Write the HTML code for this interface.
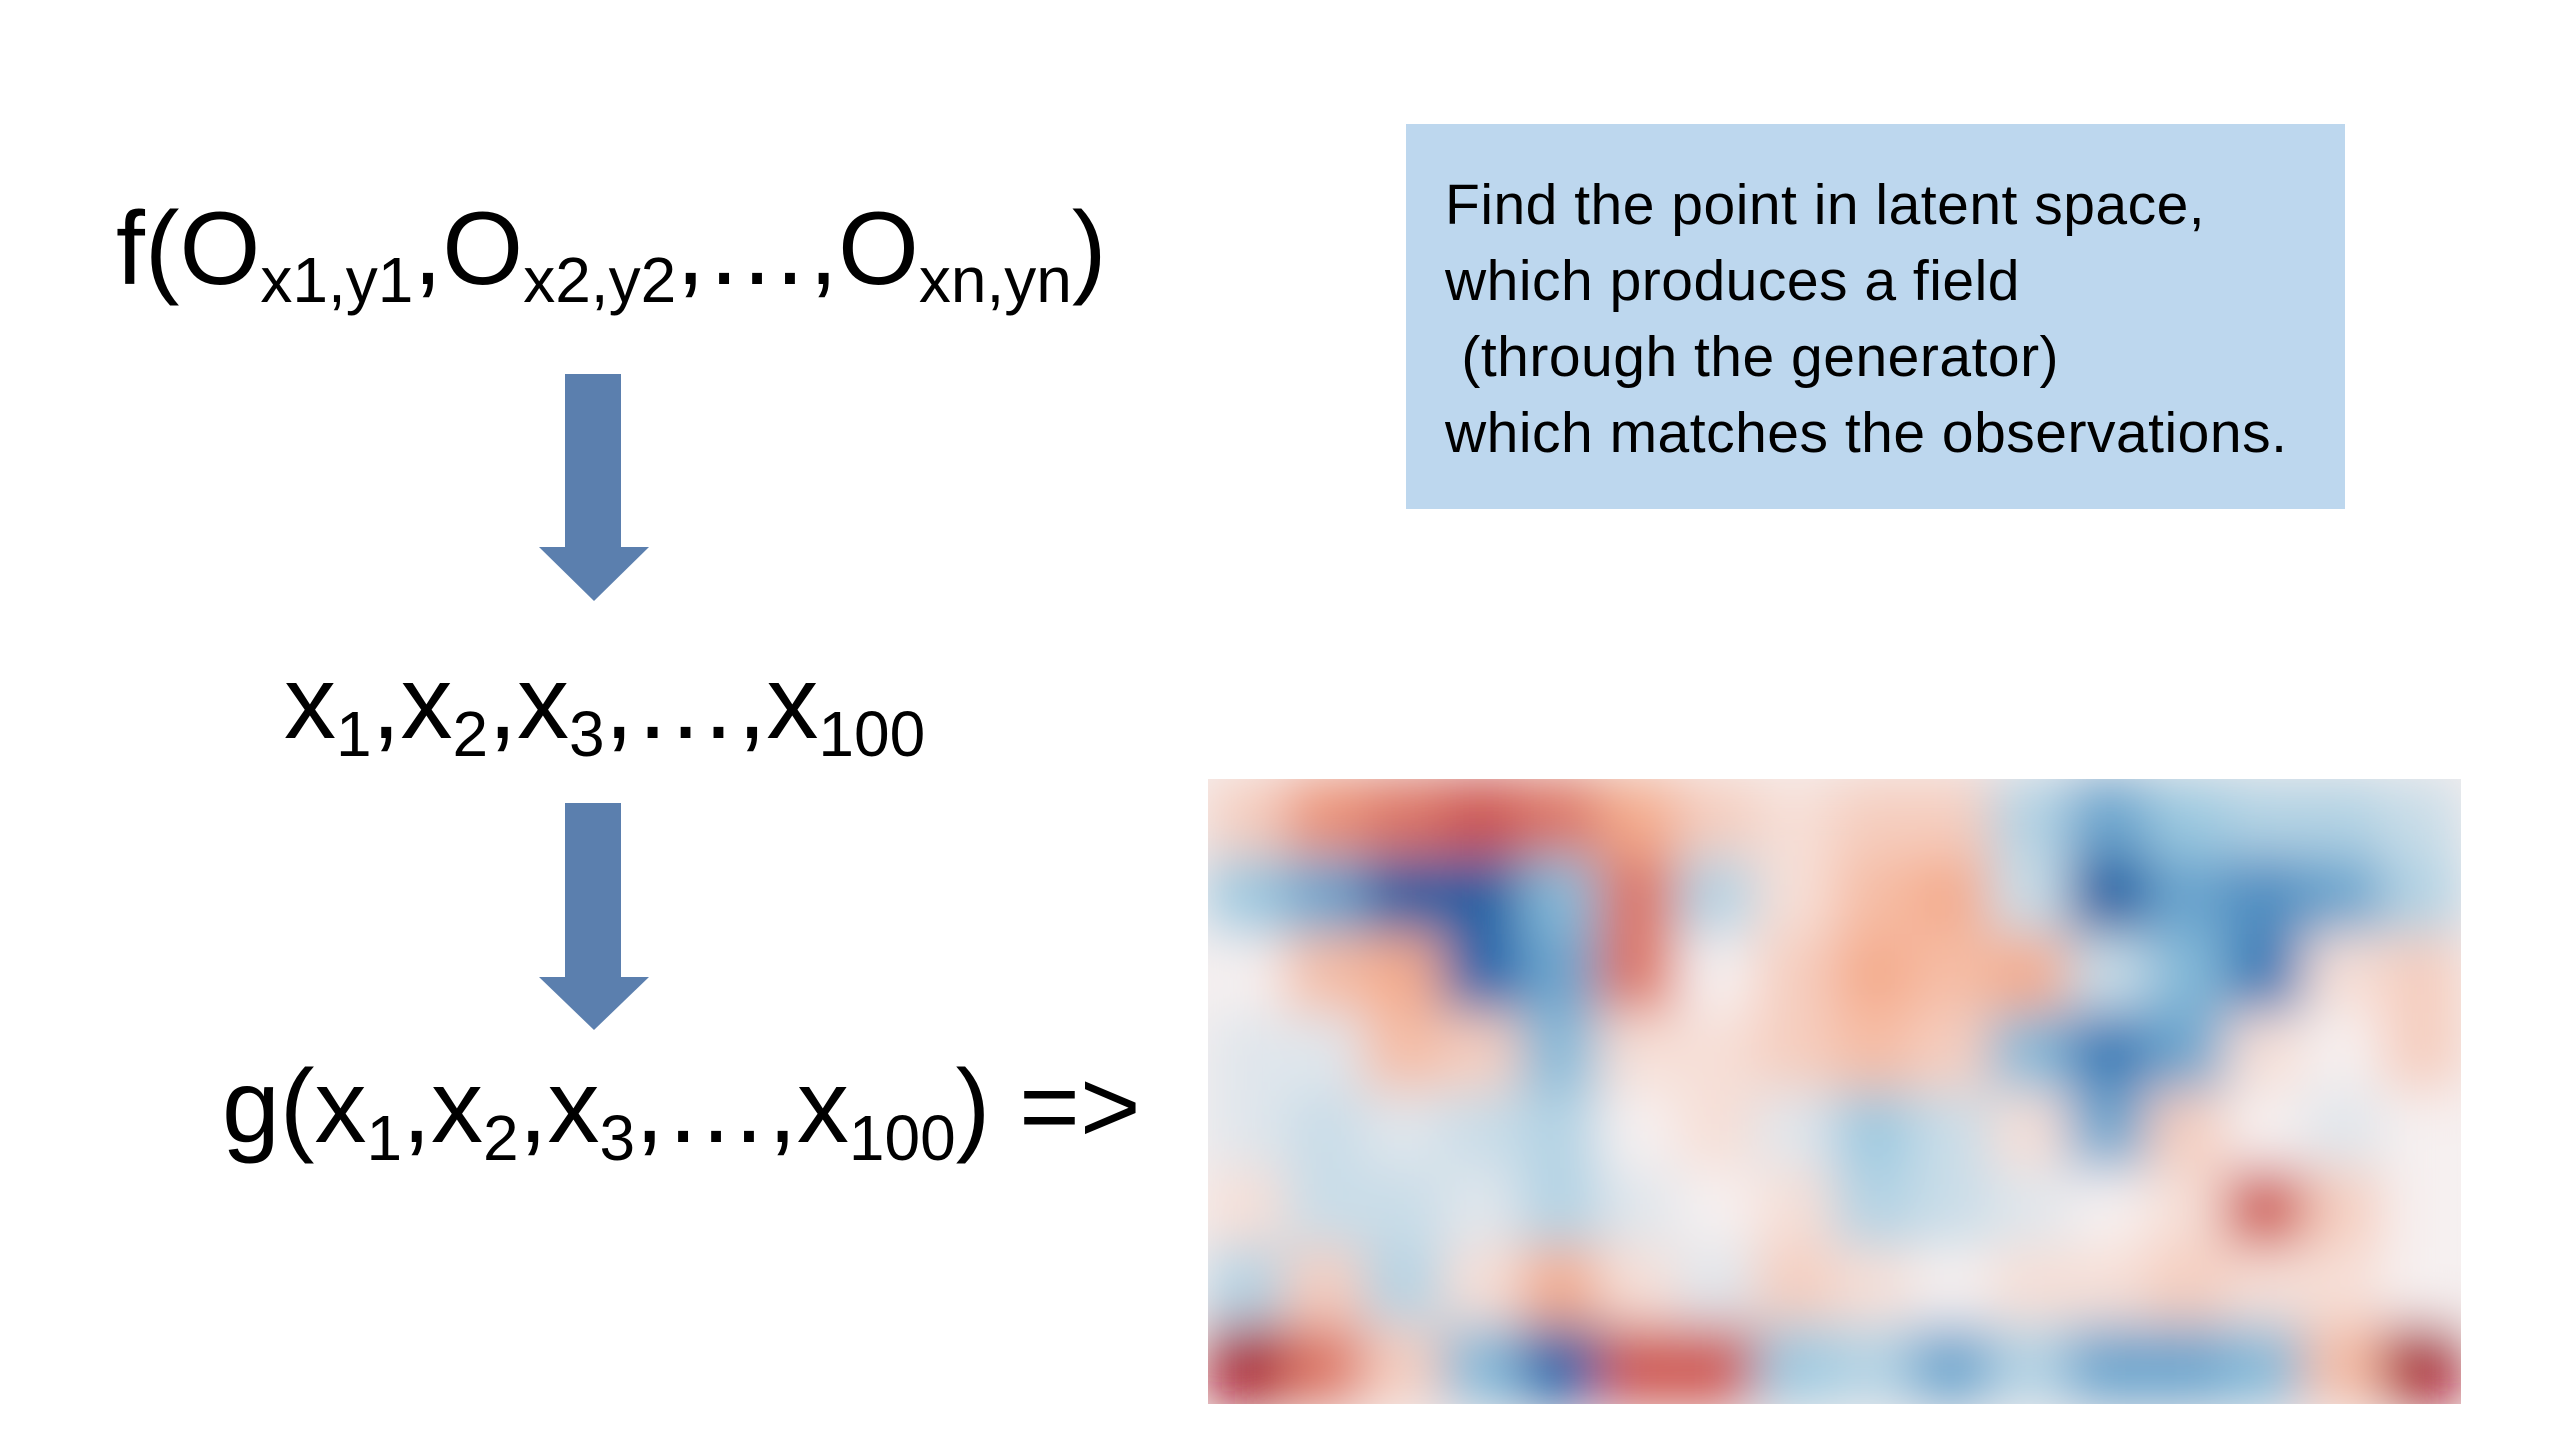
<!DOCTYPE html>
<html><head><meta charset="utf-8"><style>
html,body{margin:0;padding:0;background:#fff;}
body{width:2560px;height:1440px;position:relative;overflow:hidden;font-family:"Liberation Sans",sans-serif;color:#000;}
.eq{position:absolute;font-size:104px;line-height:1;white-space:nowrap;letter-spacing:0px;}
.eq sub{font-size:64px;vertical-align:-0.28em;line-height:0;}
.box{position:absolute;left:1406px;top:124px;width:939px;height:385px;background:#bdd7ee;}
.box div{position:absolute;left:39px;font-size:57px;white-space:nowrap;letter-spacing:0.5px;}
</style></head><body>
<div class="eq" style="left:116px;top:197px;">f(O<sub>x1,y1</sub>,O<sub>x2,y2</sub>,…,O<sub>xn,yn</sub>)</div>
<svg style="position:absolute;left:539px;top:374px" width="110" height="228"><rect x="26" y="0" width="56" height="173" fill="#5b7fae"/><polygon points="0,173 110,173 55,227" fill="#5b7fae"/></svg>
<div class="eq" style="left:284px;top:651px;">x<sub>1</sub>,x<sub>2</sub>,x<sub>3</sub>,…,x<sub>100</sub></div>
<svg style="position:absolute;left:539px;top:803px" width="110" height="228"><rect x="26" y="0" width="56" height="174" fill="#5b7fae"/><polygon points="0,174 110,174 55,227" fill="#5b7fae"/></svg>
<div class="eq" style="left:222px;top:1055px;">g(x<sub>1</sub>,x<sub>2</sub>,x<sub>3</sub>,…,x<sub>100</sub>) =&gt;</div>
<div class="box">
<div style="top:48px">Find the point in latent space,</div>
<div style="top:124px">which produces a field</div>
<div style="top:200px">&nbsp;(through the generator)</div>
<div style="top:276px">which matches the observations.</div>
</div>
<svg id="hm" style="position:absolute;left:1208px;top:779px" width="1253" height="625">
<defs><filter id="bl" x="0" y="0" width="1" height="1"><feGaussianBlur stdDeviation="26"/></filter><clipPath id="cp"><rect width="1253" height="625"/></clipPath></defs>
<rect width="1253" height="625" fill="#f5efef"/>
<g id="cells" filter="url(#bl)" clip-path="url(#cp)"></g>
</svg>
<script>
const rows0 = [0.2,0.5,0.6,0.7,0.6,0.4,0.2,0.1,0.2,0.2,-0.3,-0.6,-0.4,-0.3,-0.3,-0.2];
const rows1 = [-0.4,-0.6,-0.95,-0.95,-0.5,0.6,-0.3,0.1,0.3,0.4,-0.2,-0.95,-0.6,-0.7,-0.6,-0.3];
const rows2 = [0,0.3,0.4,-0.9,-0.6,0.6,0,0.2,0.4,0.3,0.4,-0.2,-0.5,-0.8,0.1,0.2];
const rows3 = [-0.1,-0.1,0.3,0.2,-0.5,0.1,0.1,0.2,0.3,0.2,-0.5,-0.8,-0.6,0.1,0,0.2];
const rows4 = [-0.1,-0.2,-0.1,-0.2,-0.3,0,0.1,-0.1,-0.4,-0.2,0.1,-0.6,0.2,0,-0.1,0];
const rows5 = [0.1,-0.2,-0.2,-0.1,-0.3,-0.1,0,0.1,-0.3,-0.2,-0.1,0,0.1,0.7,0.2,0];
const rows6 = [-0.3,0.2,-0.3,0.1,0.4,0.1,-0.1,0.2,0.1,0,0.1,0.1,0.2,0.1,0.1,0];
const rows7 = [0.95,0.6,0.2,-0.5,-0.9,0.7,0.7,-0.4,-0.3,-0.6,-0.3,-0.6,-0.6,-0.5,0.3,0.95];
const grid = [rows0,rows1,rows2,rows3,rows4,rows5,rows6,rows7];
const W=1253,H=625,nc=16,nr=8;
const xs=c=>c*W/nc, ys=r=>r*H/nr;
const stops=[[5,48,97],[33,102,172],[146,197,222],[246,240,240],[244,165,130],[178,24,43],[103,0,31]];
function col(v){
  const t=(Math.max(-1,Math.min(1,v))+1)/2*6, i=Math.min(5,Math.floor(t)), f=t-i;
  return 'rgb('+stops[i].map((a,k)=>Math.round(a+(stops[i+1][k]-a)*f)).join(',')+')';
}
const g=document.getElementById('cells');
grid.forEach((row,r)=>row.forEach((v,c)=>{
  const el=document.createElementNS('http://www.w3.org/2000/svg','rect');
  
  
  el.setAttribute('x',xs(c)-1);el.setAttribute('y',ys(r)-1);
  el.setAttribute('width',W/nc+2);el.setAttribute('height',H/nr+2);
  el.setAttribute('fill',col(v*0.75));
  g.appendChild(el);
}));
</script>
</body></html>
